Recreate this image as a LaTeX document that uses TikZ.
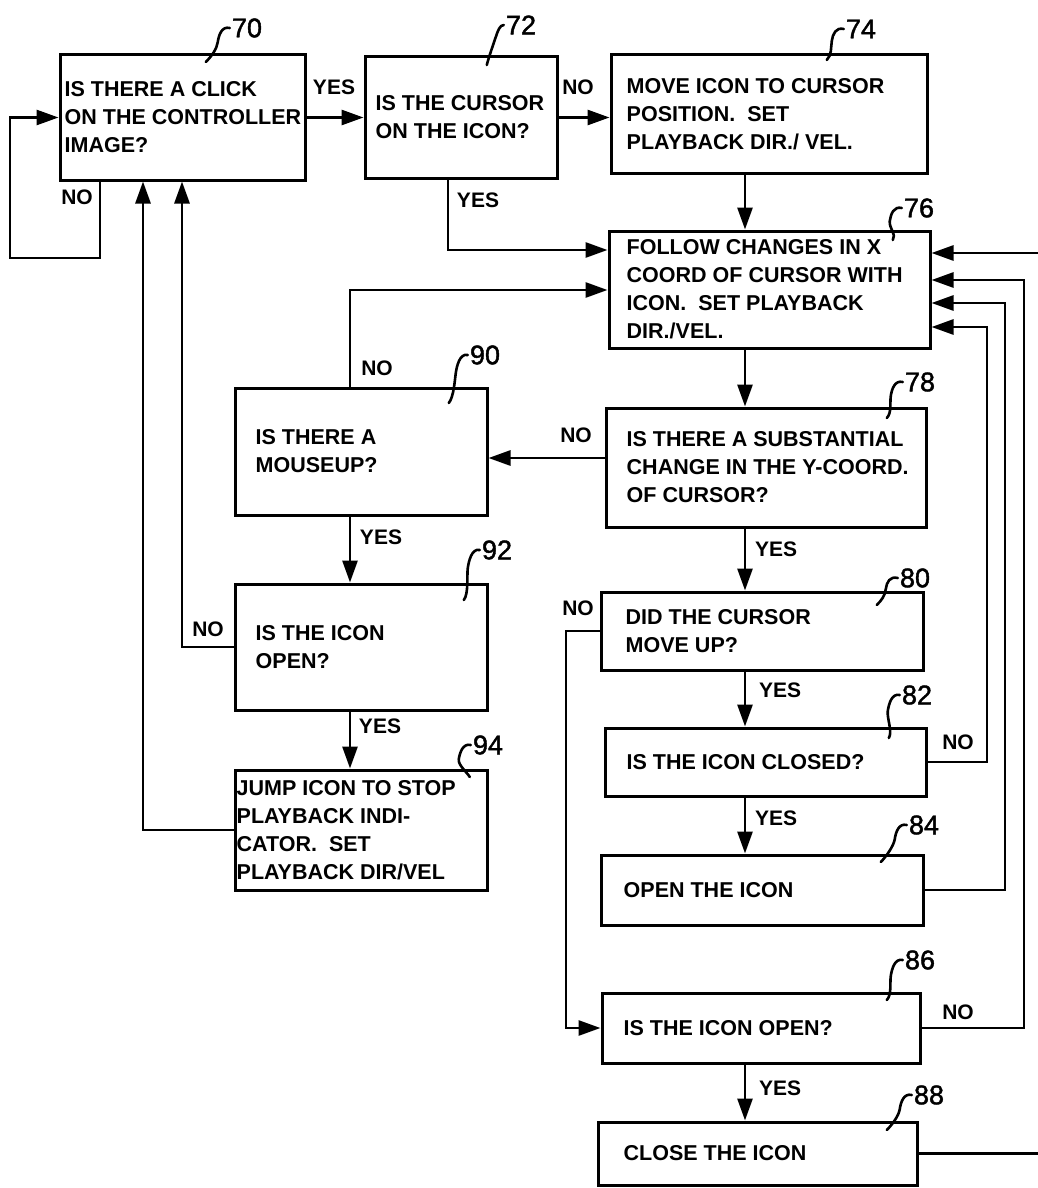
\documentclass[tikz,border=0pt]{standalone}
\usepackage{fontspec}
\newfontfamily\patfont{Liberation Sans}
\newfontfamily\patnum{Liberation Sans}[FakeBold=1.5]
\usetikzlibrary{arrows.meta}

\definecolor{patentcolor0001}{RGB}{0,0,0}
\definecolor{patentcolor0002}{RGB}{255,255,255}

\begin{document}
\begin{tikzpicture}[yscale=-1
,boxstyle/.style={draw=patentcolor0001,line width=3pt,inner sep=0pt}
,textstyle/.style={anchor=west,align=left,inner sep=0pt,text=patentcolor0001,font=\patfont\bfseries\fontsize{21.5pt}{28pt}\selectfont}
,tagstyle/.style={inner sep=0pt,text=patentcolor0001,font=\patfont\bfseries\fontsize{21pt}{24pt}\selectfont}
,numstyle/.style={inner sep=0pt,text=patentcolor0001,font=\patnum\fontsize{27pt}{30pt}\selectfont}
,flowstyle/.style={draw=patentcolor0001,line width=2.8pt,-{Triangle[length=22pt,width=15pt]}}
,leadstyle/.style={draw=patentcolor0001,line width=2.6pt,line cap=round}
]
\fill[patentcolor0002] (0pt,0pt) rectangle (1038pt,1188pt);
\useasboundingbox (0pt,0pt) rectangle (1038pt,1188pt);
% boxes
\node[boxstyle,minimum width=245pt,minimum height=125pt] (b70) at (182.5pt,117.5pt) {};
\node[boxstyle,minimum width=192pt,minimum height=121pt] (b72) at (461pt,117.5pt) {};
\node[boxstyle,minimum width=316pt,minimum height=118pt] (b74) at (769pt,114pt) {};
\node[boxstyle,minimum width=321pt,minimum height=117pt] (b76) at (769.5pt,289.5pt) {};
\node[boxstyle,minimum width=320pt,minimum height=119pt] (b78) at (766pt,467.5pt) {};
\node[boxstyle,minimum width=322pt,minimum height=78pt] (b80) at (762pt,631pt) {};
\node[boxstyle,minimum width=321pt,minimum height=68pt] (b82) at (765.5pt,762pt) {};
\node[boxstyle,minimum width=322pt,minimum height=70pt] (b84) at (762pt,890pt) {};
\node[boxstyle,minimum width=318pt,minimum height=70pt] (b86) at (761pt,1028pt) {};
\node[boxstyle,minimum width=319pt,minimum height=63pt] (b88) at (757.5pt,1153.5pt) {};
\node[boxstyle,minimum width=252pt,minimum height=127pt] (b90) at (361pt,451.5pt) {};
\node[boxstyle,minimum width=252pt,minimum height=126pt] (b92) at (361pt,647pt) {};
\node[boxstyle,minimum width=252pt,minimum height=120pt] (b94) at (361pt,830pt) {};
% texts
\node[textstyle] (t70) at ([xshift=6pt]b70.west) {IS THERE A CLICK\\ON THE CONTROLLER\\IMAGE?};
\node[textstyle] (t72) at ([xshift=12pt]b72.west) {IS THE CURSOR\\ON THE ICON?};
\node[textstyle] (t74) at ([xshift=17pt]b74.west) {MOVE ICON TO CURSOR\\POSITION.~~SET\\PLAYBACK DIR./ VEL.};
\node[textstyle] (t76) at ([xshift=19pt]b76.west) {FOLLOW CHANGES IN X\\COORD OF CURSOR WITH\\ICON.~~SET PLAYBACK\\DIR./VEL.};
\node[textstyle] (t78) at ([xshift=22pt]b78.west) {IS THERE A SUBSTANTIAL\\CHANGE IN THE Y-COORD.\\OF CURSOR?};
\node[textstyle] (t80) at ([xshift=26pt]b80.west) {DID THE CURSOR\\MOVE UP?};
\node[textstyle] (t82) at ([xshift=23pt]b82.west) {IS THE ICON CLOSED?};
\node[textstyle] (t84) at ([xshift=24pt]b84.west) {OPEN THE ICON};
\node[textstyle] (t86) at ([xshift=23pt]b86.west) {IS THE ICON OPEN?};
\node[textstyle] (t88) at ([xshift=27pt]b88.west) {CLOSE THE ICON};
\node[textstyle] (t90) at ([xshift=22pt]b90.west) {IS THERE A\\MOUSEUP?};
\node[textstyle] (t92) at ([xshift=22pt]b92.west) {IS THE ICON\\OPEN?};
\node[textstyle] (t94) at ([xshift=3pt]b94.west) {JUMP ICON TO STOP\\PLAYBACK INDI-\\CATOR.~~SET\\PLAYBACK DIR/VEL};
% lanes
\coordinate (spine) at (745pt,0pt);
\coordinate (loopr) at (100pt,258pt);
\coordinate (loopl) at (10pt,258pt);
\coordinate (lane72) at (448pt,250pt);
\coordinate (lane90) at (350pt,290pt);
\coordinate (lane78) at (0pt,458pt);
\coordinate (lane80) at (566pt,800pt);
\coordinate (lane92) at (182pt,0pt);
\coordinate (lane94) at (143pt,0pt);
\coordinate (lane82) at (987pt,327pt);
\coordinate (lane84) at (1005pt,303pt);
\coordinate (lane86) at (1024pt,280pt);
\coordinate (lane88) at (1050pt,253pt);
% connectors
\draw[flowstyle] (b70.south -| loopr) -- (loopr) -- (loopl) |- (b70.west);
\draw[flowstyle] (b70.east) -- (b72.west);
\draw[flowstyle] (b72.east) -- (b74.west |- b72.east);
\draw[flowstyle] (b72.south -| lane72) |- (b76.west |- lane72);
\draw[flowstyle] (b74.south -| spine) -- (b76.north -| spine);
\draw[flowstyle] (b90.north -| lane90) |- (b76.west |- lane90);
\draw[flowstyle] (b76.south -| spine) -- (b78.north -| spine);
\draw[flowstyle] (b78.west |- lane78) -- (b90.east |- lane78);
\draw[flowstyle] (b78.south -| spine) -- (b80.north -| spine);
\draw[flowstyle] (b80.south -| spine) -- (b82.north -| spine);
\draw[flowstyle] (b82.south -| spine) -- (b84.north -| spine);
\draw[flowstyle] (b86.south -| spine) -- (b88.north -| spine);
\draw[flowstyle] (b80.west) -| (lane80) |- (b86.west);
\draw[flowstyle] (b82.east) -| (lane82) -- (b76.east |- lane82);
\draw[flowstyle] (b84.east) -| (lane84) -- (b76.east |- lane84);
\draw[flowstyle] (b86.east) -| (lane86) -- (b76.east |- lane86);
\draw[flowstyle] (b88.east) -| (lane88) -- (b76.east |- lane88);
\draw[flowstyle] (b90.south -| lane90) -- (b92.north -| lane90);
\draw[flowstyle] (b92.south -| lane90) -- (b94.north -| lane90);
\draw[flowstyle] (b92.west) -| (b70.south -| lane92);
\draw[flowstyle] (b94.west) -| (b70.south -| lane94);
% yes / no
\node[tagstyle] (y70) at (334pt,87pt) {YES};
\node[tagstyle] (n72) at (578pt,87pt) {NO};
\node[tagstyle] (n70) at (77pt,197pt) {NO};
\node[tagstyle] (y72) at (478pt,200pt) {YES};
\node[tagstyle] (n90) at (377pt,368pt) {NO};
\node[tagstyle] (n78) at (576pt,435pt) {NO};
\node[tagstyle] (y90) at (381pt,537pt) {YES};
\node[tagstyle] (y78) at (776pt,549pt) {YES};
\node[tagstyle] (n80) at (578pt,608pt) {NO};
\node[tagstyle] (n92) at (208pt,629pt) {NO};
\node[tagstyle] (y80) at (780pt,690pt) {YES};
\node[tagstyle] (y92) at (380pt,726pt) {YES};
\node[tagstyle] (n82) at (958pt,742pt) {NO};
\node[tagstyle] (y82) at (776pt,818pt) {YES};
\node[tagstyle] (n86) at (958pt,1012pt) {NO};
\node[tagstyle] (y86) at (780pt,1088pt) {YES};
% reference numerals
\node[numstyle] (r70) at (247pt,28pt) {70};
\node[numstyle] (r72) at (521pt,25pt) {72};
\node[numstyle] (r74) at (861pt,29pt) {74};
\node[numstyle] (r76) at (919pt,208pt) {76};
\node[numstyle] (r78) at (920pt,382pt) {78};
\node[numstyle] (r80) at (915pt,578pt) {80};
\node[numstyle] (r82) at (917pt,695pt) {82};
\node[numstyle] (r84) at (924pt,825pt) {84};
\node[numstyle] (r86) at (920pt,960pt) {86};
\node[numstyle] (r88) at (929pt,1095pt) {88};
\node[numstyle] (r90) at (485pt,355pt) {90};
\node[numstyle] (r92) at (497pt,550pt) {92};
\node[numstyle] (r94) at (488pt,745pt) {94};
\draw[leadstyle] ([xshift=-2pt]r70.west) .. controls +(-8pt,-2pt) and +(1pt,-7pt) .. ++(-12pt,14pt) .. controls +(-1pt,7pt) and +(6pt,-6pt) .. ++(-12pt,20pt);
\draw[leadstyle] ([xshift=-2pt]r72.west) .. controls +(-4pt,0pt) and +(2pt,-6pt) .. ++(-8pt,12pt) .. controls +(-2pt,6pt) and +(2pt,-8pt) .. ++(-9pt,28pt);
\draw[leadstyle] ([xshift=-2pt]r74.west) .. controls +(-8pt,-2pt) and +(1pt,-7pt) .. ++(-12pt,12pt) .. controls +(-1pt,7pt) and +(5pt,-5pt) .. ++(-5pt,19pt);
\draw[leadstyle] ([xshift=-2pt]r76.west) .. controls +(-8pt,-2pt) and +(1pt,-7pt) .. ++(-12pt,13pt) .. controls +(-1pt,7pt) and +(4pt,-5pt) .. ++(3pt,19pt);
\draw[leadstyle] ([xshift=-2pt]r78.west) .. controls +(-8pt,-2pt) and +(1pt,-7pt) .. ++(-12pt,14pt) .. controls +(-1pt,7pt) and +(5pt,-5pt) .. ++(-4pt,22pt);
\draw[leadstyle] ([xshift=-2pt]r80.west) .. controls +(-8pt,-2pt) and +(1pt,-7pt) .. ++(-12pt,11pt) .. controls +(-1pt,7pt) and +(5pt,-5pt) .. ++(-9pt,16pt);
\draw[leadstyle] ([xshift=-2pt]r82.west) .. controls +(-8pt,-2pt) and +(1pt,-7pt) .. ++(-12pt,16pt) .. controls +(-1pt,7pt) and +(4pt,-6pt) .. ++(1pt,27pt);
\draw[leadstyle] ([xshift=-2pt]r84.west) .. controls +(-8pt,-2pt) and +(1pt,-7pt) .. ++(-12pt,14pt) .. controls +(-1pt,7pt) and +(5pt,-5pt) .. ++(-14pt,23pt);
\draw[leadstyle] ([xshift=-2pt]r86.west) .. controls +(-8pt,-2pt) and +(1pt,-7pt) .. ++(-12pt,16pt) .. controls +(-1pt,7pt) and +(5pt,-5pt) .. ++(-4pt,24pt);
\draw[leadstyle] ([xshift=-2pt]r88.west) .. controls +(-8pt,-2pt) and +(1pt,-7pt) .. ++(-12pt,14pt) .. controls +(-1pt,7pt) and +(5pt,-5pt) .. ++(-13pt,21pt);
\draw[leadstyle] ([xshift=-2pt]r90.west) .. controls +(-8pt,-2pt) and +(1pt,-7pt) .. ++(-12pt,18pt) .. controls +(-1pt,7pt) and +(5pt,-6pt) .. ++(-7pt,30pt);
\draw[leadstyle] ([xshift=-2pt]r92.west) .. controls +(-8pt,-2pt) and +(1pt,-7pt) .. ++(-12pt,18pt) .. controls +(-1pt,7pt) and +(5pt,-6pt) .. ++(-4pt,32pt);
\draw[leadstyle] ([xshift=-2pt]r94.west) .. controls +(-8pt,-2pt) and +(1pt,-6pt) .. ++(-12pt,14pt) .. controls +(-1pt,6pt) and +(-3pt,-5pt) .. ++(11pt,18pt);
\end{tikzpicture}
\end{document}
